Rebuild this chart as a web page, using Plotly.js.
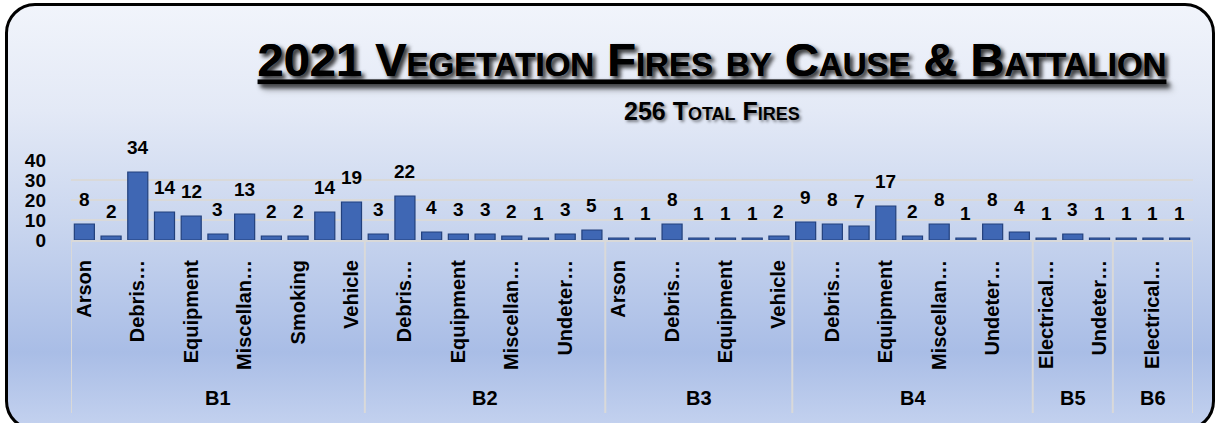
<!DOCTYPE html>
<html>
<head>
<meta charset="utf-8">
<script src="https://cdn.plot.ly/plotly-3.0.1.min.js"></script>
<style>
  html, body { margin: 0; padding: 0; width: 1218px; height: 423px; overflow: hidden; background: #ffffff; }
  #frame {
    position: absolute; left: 5px; top: 3px; width: 1210px; height: 428px;
    box-sizing: border-box; border: 3px solid #000; border-radius: 30px;
    background: linear-gradient(to bottom, #f1f4fb 0%, #e3e9f6 25%, #cbd7ef 50%, #a9bde6 82%, #c4d2ef 100%);
  }
  #chart { position: absolute; left: 0; top: 0; width: 1218px; height: 423px; }
</style>
</head>
<body>
<div id="frame"></div>
<div id="chart"></div>
<script>
// ---- data ----
const battalions = ['B1', 'B2', 'B3', 'B4', 'B5', 'B6'];
const groupSizes = [11, 9, 7, 9, 3, 3];
const causes = [
  // B1
  'Arson', 'Campfire', 'Debris Burning', 'Electrical Power', 'Equipment', 'Lightning',
  'Miscellaneous', 'Playing with Fire', 'Smoking', 'Undetermined', 'Vehicle',
  // B2
  'Arson', 'Debris Burning', 'Electrical Power', 'Equipment', 'Lightning',
  'Miscellaneous', 'Smoking', 'Undetermined', 'Vehicle',
  // B3
  'Arson', 'Campfire', 'Debris Burning', 'Electrical Power', 'Equipment', 'Undetermined', 'Vehicle',
  // B4
  'Arson', 'Debris Burning', 'Electrical Power', 'Equipment', 'Lightning',
  'Miscellaneous', 'Smoking', 'Undetermined', 'Vehicle',
  // B5
  'Electrical Power', 'Equipment', 'Undetermined',
  // B6
  'Debris Burning', 'Electrical Power', 'Equipment'
];
const fires = [
  8, 2, 34, 14, 12, 3, 13, 2, 2, 14, 19,
  3, 22, 4, 3, 3, 2, 1, 3, 5,
  1, 1, 8, 1, 1, 1, 2,
  9, 8, 7, 17, 2, 8, 1, 8, 4,
  1, 3, 1,
  1, 1, 1
];
const shortNames = {
  'Debris Burning': 'Debris…',
  'Miscellaneous': 'Miscellan…',
  'Undetermined': 'Undeter…',
  'Electrical Power': 'Electrical…'
};
const yTicks = [0, 10, 20, 30, 40];

// ---- build ----
const FONT = 'Liberation Sans, Arial, sans-serif';
const xs = fires.map((_, i) => i);
const tickvals = xs.filter(i => i % 2 === 0);
const ticktext = tickvals.map(i => shortNames[causes[i]] || causes[i]);
const total = fires.reduce((a, b) => a + b, 0);

const trace = {
  type: 'bar',
  x: xs,
  y: fires,
  customdata: causes,
  marker: { color: '#3f67b4', line: { color: '#22407c', width: 1.2 } },
  hovertemplate: '%{customdata}: %{y}<extra></extra>'
};

const annotations = [];
fires.forEach((v, i) => {
  annotations.push({
    x: i, y: v, xref: 'x', yref: 'y', text: String(v), showarrow: false,
    yanchor: 'middle', yshift: 25,
    font: { family: FONT, size: 19, weight: 'bold', color: '#000' }
  });
});

const shapes = [];
let start = 0;
battalions.forEach((b, g) => {
  const n = groupSizes[g];
  shapes.push({
    type: 'line', xref: 'x', yref: 'paper', x0: start - 0.5, x1: start - 0.5,
    y0: 0, y1: -2.1625, line: { color: '#d9d9d9', width: 2 }
  });
  annotations.push({
    x: start + (n - 1) / 2, y: -1.975, xref: 'x', yref: 'paper', text: b, showarrow: false,
    yanchor: 'middle', font: { family: FONT, size: 20, weight: 'bold', color: '#000' }
  });
  start += n;
});
shapes.push({
  type: 'line', xref: 'x', yref: 'paper', x0: start - 0.5, x1: start - 0.5,
  y0: 0, y1: -2.1625, line: { color: '#d9d9d9', width: 2 }
});

annotations.push({
  x: (712 - 71) / 1122, y: 1.6125, xref: 'paper', yref: 'paper',
  text: total + ' Total Fires', showarrow: false, xanchor: 'center', yanchor: 'middle',
  font: { family: FONT, size: 25, weight: 'bold', color: '#000', variant: 'small-caps',
          shadow: '2px 2px 3px rgba(0,0,0,0.45)' }
});

const layout = {
  width: 1218, height: 423,
  margin: { l: 71, r: 25, t: 160, b: 183, pad: 0 },
  paper_bgcolor: 'rgba(0,0,0,0)',
  plot_bgcolor: 'rgba(0,0,0,0)',
  showlegend: false,
  bargap: 0.25,
  title: {
    text: '2021 Vegetation Fires by Cause & Battalion',
    xref: 'container', yref: 'container',
    x: 712 / 1218, xanchor: 'center',
    y: 1 - 60 / 423, yanchor: 'middle',
    font: { family: FONT, size: 47, weight: 'bold', color: '#000', variant: 'small-caps',
            lineposition: 'under', shadow: '3px 3px 4px rgba(0,0,0,0.55)' }
  },
  xaxis: {
    range: [-0.5, fires.length - 0.5],
    tickmode: 'array', tickvals: tickvals, ticktext: ticktext,
    tickangle: -90, ticks: '', ticklabelstandoff: 10,
    tickfont: { family: FONT, size: 20, weight: 'bold', color: '#000' },
    showgrid: false, zeroline: false,
    showline: true, linecolor: '#d9d9d9', linewidth: 2,
    fixedrange: true
  },
  yaxis: {
    range: [0, 40],
    tickmode: 'array', tickvals: yTicks, ticktext: yTicks.map(String),
    ticks: '', ticklabelstandoff: 24,
    tickfont: { family: FONT, size: 19, weight: 'bold', color: '#000' },
    showgrid: true, gridcolor: '#d9d9d9', gridwidth: 2,
    zeroline: false, showline: false, fixedrange: true
  },
  annotations: annotations,
  shapes: shapes
};

Plotly.newPlot('chart', [trace], layout, { displayModeBar: false, staticPlot: true });
</script>
</body>
</html>
